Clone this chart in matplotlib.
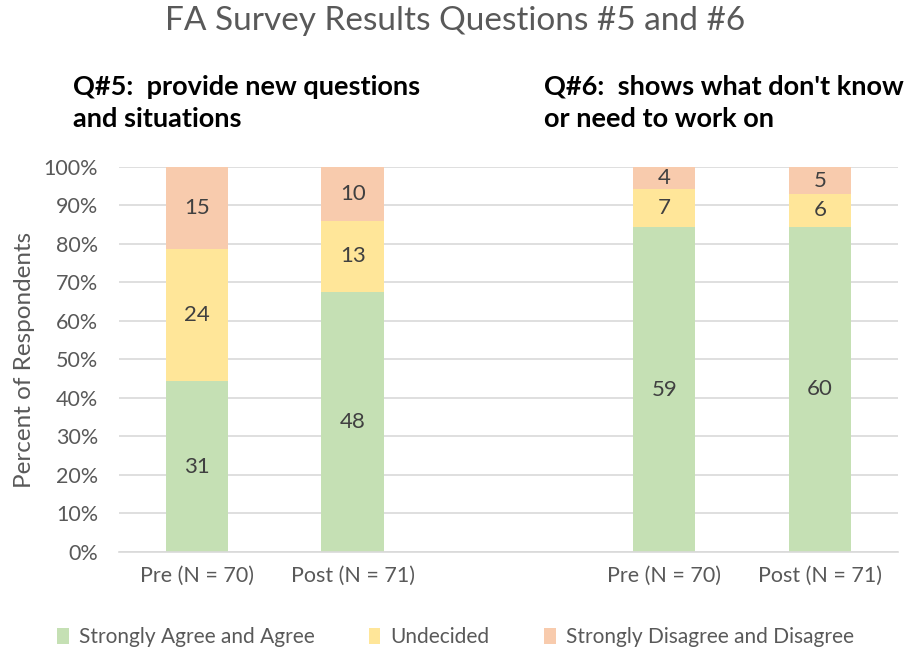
#!/usr/bin/env python3

import matplotlib
matplotlib.use('Agg')
import matplotlib.pyplot as plt
import numpy as np

plt.rcParams['font.family'] = ['Lato', 'DejaVu Sans']

# category labels (empty slot separates the two questions)
categories = ['Pre (N = 70)', 'Post (N = 71)', '', 'Pre (N = 70)', 'Post (N = 71)']
agree = [31, 48, 0, 59, 60]
undecided = [24, 13, 0, 7, 6]
disagree = [15, 10, 0, 4, 5]
series_names = ['Strongly Agree and Agree', 'Undecided', 'Strongly Disagree and Disagree']
colors = ['#C5E0B4', '#FFE699', '#F8CBAD']

counts = np.array([agree, undecided, disagree], dtype=float)
totals = counts.sum(axis=0)
totals[totals == 0] = 1
pct = counts / totals

fig = plt.figure(figsize=(9.11, 6.52), dpi=100)
ax = fig.add_axes([0.1306, 0.1534, 0.855, 0.5905])

x = np.arange(len(categories))
bottom = np.zeros(len(categories))
for i in range(3):
    ax.bar(x, pct[i], 0.4, bottom=bottom, color=colors[i], label=series_names[i], zorder=2)
    for j in range(len(categories)):
        if counts[i, j] > 0:
            ax.text(x[j], bottom[j] + pct[i, j] / 2, str(int(counts[i, j])),
                    ha='center', va='center', fontsize=16, color='#404040', zorder=3)
    bottom += pct[i]

ax.set_xlim(-0.5, len(categories) - 0.5)
ax.set_ylim(0, 1)
ax.set_yticks(np.arange(0, 1.01, 0.1))
ax.set_yticklabels([f'{int(round(v * 100))}%' for v in np.arange(0, 1.01, 0.1)])
ax.set_xticks(x)
ax.set_xticklabels(categories)
ax.tick_params(axis='both', length=0, labelsize=15.5, colors='#595959')
ax.tick_params(axis='x', pad=10)
ax.tick_params(axis='y', pad=15)
ax.yaxis.grid(True, color='#D9D9D9', linewidth=1.2, zorder=0)
for s in ['top', 'right', 'left']:
    ax.spines[s].set_visible(False)
ax.spines['bottom'].set_color('#D9D9D9')
ax.spines['bottom'].set_linewidth(1.2)
ax.set_ylabel('Percent of Respondents', fontsize=17.5, color='#595959', labelpad=6)

fig.text(0.5, 0.968, 'FA Survey Results Questions #5 and #6', ha='center', va='center',
         fontsize=24, color='#595959')
fig.text(0.080, 0.842, 'Q#5:  provide new questions\nand situations', ha='left', va='center',
         fontsize=19.5, fontweight='bold', color='#000000', linespacing=1.42)
fig.text(0.597, 0.842, "Q#6:  shows what don't know\nor need to work on", ha='left', va='center',
         fontsize=19.5, fontweight='bold', color='#000000', linespacing=1.42)

fig.legend(loc='center', bbox_to_anchor=(0.5, 0.023), ncol=3, frameon=False,
           fontsize=15, labelcolor='#595959', handlelength=0.55, handleheight=0.8,
           handletextpad=0.5, columnspacing=2.6)

plt.savefig('out.png', dpi=100)
